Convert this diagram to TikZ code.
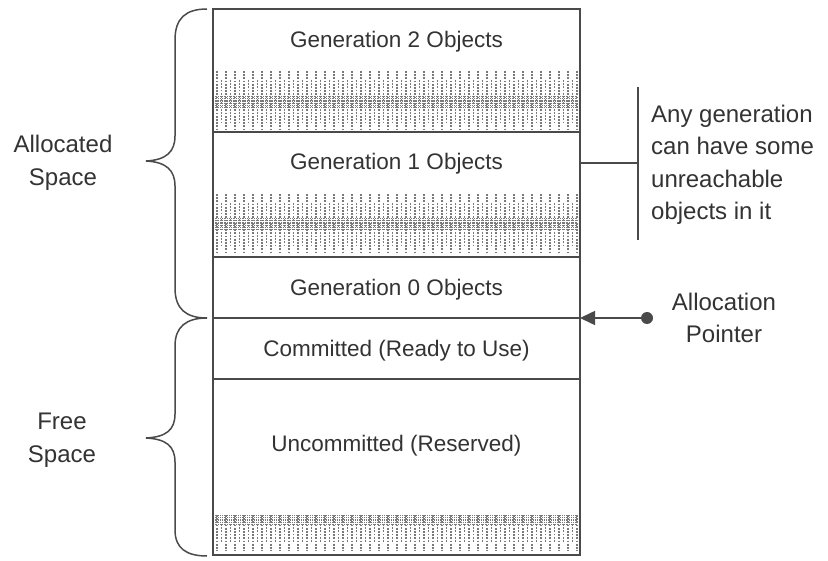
\documentclass[tikz,border=0pt]{standalone}
\usepackage{fontspec}
\setmainfont{Liberation Sans}
\usetikzlibrary{arrows.meta}
\definecolor{txt}{HTML}{333333}
\definecolor{ln}{HTML}{4A4A4A}
\definecolor{dotc}{HTML}{7A7A7A}
\newcommand\patband[4]{%
  % #1 top, #2 dense top, #3 dense bottom, #4 bottom
  \foreach \xx in {217,226,...,577}{
    \draw[dotc,line width=1.5pt,dash pattern=on 1.8pt off 1.4pt] (\xx,#1) -- (\xx,#4);
  }
  \foreach \xx in {221.5,230.5,...,575}{
    \draw[dotc,line width=1.3pt,dash pattern=on 1.8pt off 1.4pt] (\xx,#1+9) -- (\xx,#4-8);
  }
  \foreach \xx in {215,216.8,...,578}{
    \draw[dotc,line width=1pt,dash pattern=on 1.2pt off 1pt] (\xx,#2) -- (\xx,#3);
  }
}
\begin{document}
\begin{tikzpicture}[x=1pt,y=-1pt,
  boxtext/.style={text=txt,font=\fontsize{22.5}{27}\selectfont,anchor=base,inner sep=0pt},
  label/.style={text=txt,font=\fontsize{24}{32.5}\selectfont,inner sep=0pt},
  rule/.style={draw=ln,line width=1.5pt},
  bracestyle/.style={draw=ln,line width=1.5pt}]
\useasboundingbox (0,0) rectangle (828,561);
\fill[white] (0,0) rectangle (828,561);

% patterns
\patband{71}{96}{108}{130}
\patband{194}{218}{230}{254}
\patband{515}{515}{525}{551}

% box and dividers
\coordinate (tl) at (213,9);
\coordinate (br) at (580,555);
\draw[rule] (tl) rectangle (br);
\coordinate (d1l) at (213,132); \coordinate (d1r) at (580,132);
\coordinate (d2l) at (213,257); \coordinate (d2r) at (580,257);
\coordinate (d3l) at (213,318); \coordinate (d3r) at (580,318);
\coordinate (d4l) at (213,379); \coordinate (d4r) at (580,379);
\draw[rule] (d1l) -- (d1r);
\draw[rule] (d2l) -- (d2r);
\draw[rule] (d3l) -- (d3r);
\draw[rule] (d4l) -- (d4r);

% box texts
\node[boxtext] (g2) at (396.5,48) {Generation 2 Objects};
\node[boxtext] (g1) at (396.5,170) {Generation 1 Objects};
\node[boxtext] (g0) at (396.5,296) {Generation 0 Objects};
\node[boxtext] (cm) at (396.5,357) {Committed (Ready to Use)};
\node[boxtext] (uc) at (396.5,452) {Uncommitted (Reserved)};

% braces
\draw[bracestyle] (207,9) .. controls (186,9) and (175,18) .. (175,40)
  -- (175,136) .. controls (175,152) and (166,160) .. (146,161)
  .. controls (166,162) and (175,170) .. (175,186)
  -- (175,288) .. controls (175,309) and (186,318) .. (207,318);
\draw[bracestyle] (207,318) .. controls (186,318) and (175,327) .. (175,346)
  -- (175,414) .. controls (175,430) and (166,437) .. (146,438)
  .. controls (166,439) and (175,446) .. (175,462)
  -- (175,530) .. controls (175,548) and (186,556) .. (207,556);

\node[label,align=center] (alloc) at (63,163) {Allocated\\Space};
\node[label,align=center] (free) at (62,440) {Free\\Space};

% annotation on the right
\coordinate (g1r) at (580,163);
\coordinate (vtop) at (638,87);
\coordinate (vbot) at (638,240);
\coordinate (vmid) at (638,163);
\draw[rule] (g1r) -- (vmid);
\draw[rule] (vtop) -- (vbot);
\node[label,align=left,anchor=west] (note) at (651,165)
  {Any generation\\can have some\\unreachable\\objects in it};

% allocation pointer
\node[circle,fill=ln,inner sep=0pt,minimum size=12pt] (dot) at (647,318) {};
\draw[rule,-{Triangle[length=15pt,width=14pt]}] (dot.center) -- (d3r);
\node[label,align=center] (ptr) at (724,318) {Allocation\\Pointer};
\end{tikzpicture}
\end{document}
